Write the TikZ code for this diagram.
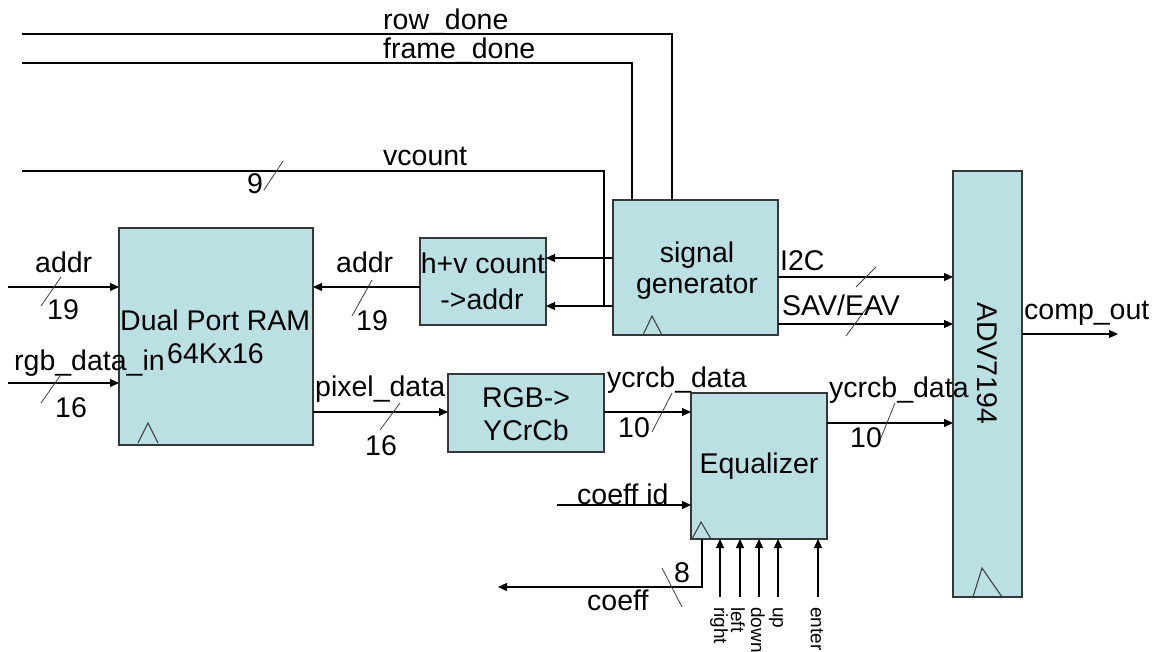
\documentclass[tikz,border=0pt]{standalone}
\usepackage{fontspec}
\setmainfont{Liberation Sans}
\usetikzlibrary{arrows.meta,calc}
\definecolor{boxfill}{RGB}{187,224,227}
\definecolor{boxline}{RGB}{55,55,55}
\begin{document}
\begin{tikzpicture}[x=1pt,y=-1pt,
  blk/.style={draw=boxline,fill=boxfill,line width=1.4pt,anchor=north west,inner sep=0pt,outer sep=0pt},
  wire/.style={line width=1.2pt,draw=black},
  arr/.style={wire,-{Triangle[length=9pt,width=8pt]}},
  bus/.style={line width=0.8pt,draw=black!75},
  lbl/.style={inner sep=0pt,anchor=base west,font=\fontsize{28.5}{30}\selectfont},
  clab/.style={inner sep=0pt,anchor=base,font=\fontsize{28.5}{30}\selectfont},
  vlab/.style={inner sep=0pt,anchor=west,rotate=-90,font=\fontsize{19}{20}\selectfont},
  clk/.style={line width=1pt,draw=boxline}]
\useasboundingbox (0,0) rectangle (1156,651);
\fill[white] (0,0) rectangle (1156,651);

% blocks
\node[blk,minimum width=194pt,minimum height=217pt] (ram) at (119,228) {};
\node[blk,minimum width=126pt,minimum height=87pt] (hv) at (420,238) {};
\node[blk,minimum width=165pt,minimum height=135pt] (sig) at (613,200) {};
\node[blk,minimum width=156pt,minimum height=78pt] (rgb) at (448,374) {};
\node[blk,minimum width=136pt,minimum height=146pt] (eq) at (691,393) {};
\node[blk,minimum width=69pt,minimum height=426pt] (adv) at (953,171) {};

% free ends
\coordinate (rowL) at (22,34);
\coordinate (frameL) at (22,63);
\coordinate (vcL) at (22,171);
\coordinate (addrL) at (8,287);
\coordinate (rgbL) at (8,383);
\coordinate (coutR) at (1118,334);
\coordinate (coeffL) at (498,587);
\coordinate (cidL) at (557,505);
\coordinate (inR) at (720,597);
\coordinate (inL) at (740,597);
\coordinate (inD) at (759,597);
\coordinate (inU) at (778,597);
\coordinate (inE) at (818,597);

% internal port points
\coordinate (s1) at ($(sig.north west)+(0,58)$);
\coordinate (s2) at ($(sig.north west)+(0,106)$);
\coordinate (h1) at ($(hv.north west)+(0,49)$);
\coordinate (p1) at ($(rgb.north west)+(0,38)$);
\coordinate (e1) at ($(eq.north east)+(0,30)$);
\coordinate (i1) at ($(sig.north east)+(0,77)$);
\coordinate (i2) at ($(sig.north east)+(0,124)$);

% connectors
\draw[wire] (rowL) -| ($(sig.north west)+(59,0)$);
\draw[wire] (frameL) -| ($(sig.north west)+(19,0)$);
\draw[wire] (vcL) -| ($(s2)+(-9,0)$);
\draw[arr] (s1) -- (s1 -| hv.east);
\draw[arr] (s2) -- (s2 -| hv.east);
\draw[arr] (h1) -- (h1 -| ram.east);
\draw[arr] (addrL) -- (addrL -| ram.west);
\draw[arr] (rgbL) -- (rgbL -| ram.west);
\draw[arr] (p1 -| ram.east) -- (p1);
\draw[arr] (p1 -| rgb.east) -- (p1 -| eq.west);
\draw[arr] (e1) -- (e1 -| adv.west);
\draw[arr] (i1) -- (i1 -| adv.west);
\draw[arr] (i2) -- (i2 -| adv.west);
\draw[arr] (coutR -| adv.east) -- (coutR);
\draw[arr] (cidL) -- (cidL -| eq.west);
\draw[arr] ($(eq.south west)+(11,0)$) |- (coeffL);
\foreach \p in {inR,inL,inD,inU,inE}{\draw[arr] (\p) -- (\p |- eq.south);}

% bus slashes
\draw[bus] (264,190) -- (283,161);
\draw[bus] (41,306) -- (61,277);
\draw[bus] (41,403) -- (60,376);
\draw[bus] (352,316) -- (372,280);
\draw[bus] (380,430) -- (400,403);
\draw[bus] (652,432) -- (672,393);
\draw[bus] (878,445) -- (895,403);
\draw[bus] (856,287) -- (876,267);
\draw[bus] (846,336) -- (868,306);
\draw[bus] (662,568) -- (682,607);

% clock triangles
\draw[clk] (138,443) -- (148,423) -- (158,443);
\draw[clk] (643,335) -- (652,316) -- (662,335);
\draw[clk] (692,539) -- (701,522) -- (711,539);
\draw[clk] (973,597) -- (982,568) -- (1002,597);

% labels
\node[lbl] (t1) at (383,29) {row\_done};
\node[lbl] (t2) at (383,58) {frame\_done};
\node[lbl] (t3) at (383,165) {vcount};
\node[lbl] (t4) at (247,193) {9};
\node[lbl] (t5) at (35,272) {addr};
\node[lbl] (t6) at (47,319) {19};
\node[lbl] (t7) at (14,370) {rgb\_data\_in};
\node[lbl] (t8) at (55,417) {16};
\node[lbl] (t9) at (120,330) {Dual Port RAM};
\node[lbl] (t10) at (167,363) {64Kx16};
\node[lbl] (t11) at (336,272) {addr};
\node[lbl] (t12) at (356,330) {19};
\node[lbl] (t13) at (315,396) {pixel\_data};
\node[lbl] (t14) at (365,455) {16};
\node[clab] (t15) at (483,273) {h+v count};
\node[clab] (t16) at (482,309) {->addr};
\node[clab] (t17) at (697,262) {signal};
\node[clab] (t18) at (697,293) {generator};
\node[clab] (t19) at (526,407) {RGB->};
\node[clab] (t20) at (526,440) {YCrCb};
\node[lbl] (t21) at (607,387) {ycrcb\_data};
\node[lbl] (t22) at (618,437) {10};
\node[clab] (t23) at (759,473) {Equalizer};
\node[lbl] (t24) at (577,504) {coeff id};
\node[lbl] (t25) at (674,582) {8};
\node[lbl] (t26) at (587,610) {coeff};
\node[lbl] (t27) at (780,270) {I2C};
\node[lbl] (t28) at (782,315) {SAV/EAV};
\node[lbl] (t29) at (829,397) {ycrcb\_data};
\node[lbl] (t30) at (850,447) {10};
\node[lbl] (t31) at (1024,319) {comp\_out};
\node[inner sep=0pt,rotate=-90,font=\fontsize{28.5}{30}\selectfont] (t32) at (987,363) {ADV7194};
\node[vlab] (v1) at (719,607) {right};
\node[vlab] (v2) at (738,607) {left};
\node[vlab] (v3) at (758,607) {down};
\node[vlab] (v4) at (776,607) {up};
\node[vlab] (v5) at (817,607) {enter};
\end{tikzpicture}
\end{document}
